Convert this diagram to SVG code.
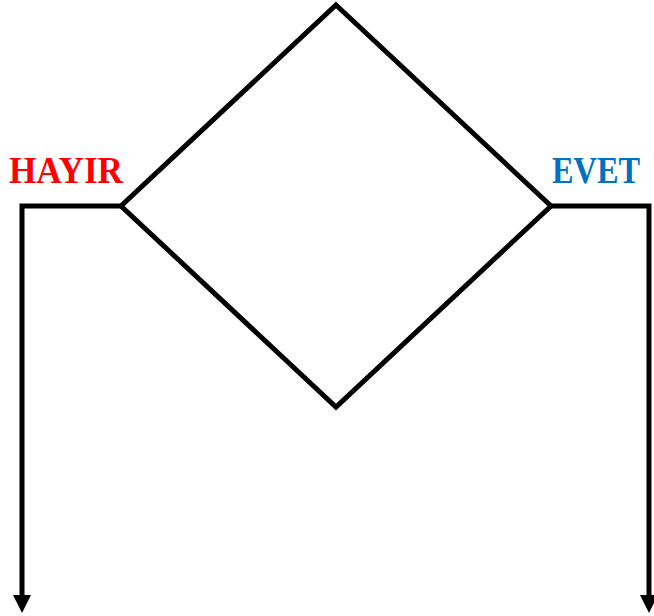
<svg xmlns="http://www.w3.org/2000/svg" width="654" height="616" viewBox="0 0 654 616">
<style>
.ln{fill:none;stroke:#000;stroke-width:5;stroke-linejoin:miter}
.lbl{font-family:"Liberation Serif","Times New Roman",serif;font-weight:bold;font-size:38px}
</style>
<defs>
<marker id="ah" markerUnits="userSpaceOnUse" markerWidth="20" markerHeight="20" refX="9" refY="0" viewBox="0 -10 20 20" orient="auto">
<path d="M0,-9 L18,0 L0,9 Z" fill="#000"/>
</marker>
</defs>
<g id="decision">
<polygon class="ln" points="336,5 551,206 336,407 121,206"/>
</g>
<g id="connectors">
<polyline class="ln" points="121,206 22,206 22,604" marker-end="url(#ah)"/>
<polyline class="ln" points="551,206 649,206 649,604" marker-end="url(#ah)"/>
</g>
<g id="labels">
<text class="lbl" x="9" y="183" fill="#ff0000" textLength="114" lengthAdjust="spacingAndGlyphs">HAYIR</text>
<text class="lbl" x="552" y="183" fill="#0070c0" textLength="88" lengthAdjust="spacingAndGlyphs">EVET</text>
</g>
</svg>
